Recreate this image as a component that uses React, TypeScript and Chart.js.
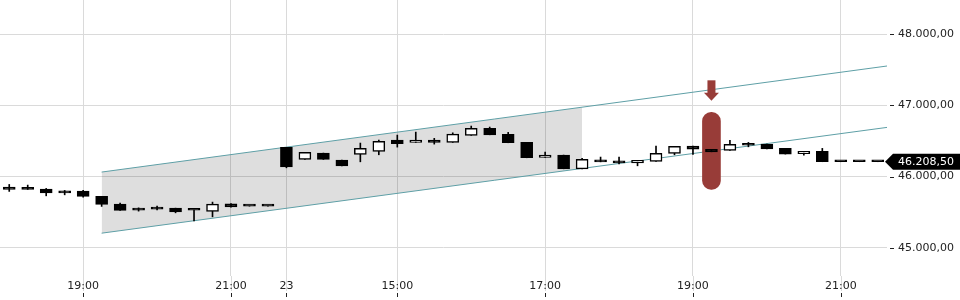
import React, { useEffect, useRef } from "react";
import { Chart, registerables } from "chart.js";

Chart.register(...registerables);

// ---- Data (15-minute candles) ----
const timeLabels = [
  "18:00","18:15","18:30","18:45","19:00","19:15","19:30","19:45",
  "20:00","20:15","20:30","20:45","21:00","21:15","21:30",
  "23 13:30","13:45","14:00","14:15","14:30","14:45","15:00","15:15",
  "15:30","15:45","16:00","16:15","16:30","16:45","17:00","17:15",
  "17:30","17:45","18:00","18:15","18:30","18:45","19:00","19:15",
  "19:30","19:45","20:00","20:15","20:30","20:45","21:00","21:15","21:30",
];
const openV = [
  45852, 45837, 45823, 45795, 45795, 45721, 45612, 45542, 45556, 45556,
  45530, 45510, 45617, 45584, 45584, 46410, 46241, 46330, 46231, 46312,
  46354, 46513, 46480, 46513, 46480, 46579, 46677, 46593, 46480, 46269,
  46302, 46109, 46227, 46213, 46193, 46213, 46326, 46428, 46382, 46368,
  46450, 46456, 46396, 46320, 46354, 46208.5, 46208.5, 46208.5,
];
const highV = [
  45889, 45880, 45833, 45805, 45805, 45721, 45626, 45560, 45584, 45556,
  45530, 45641, 45620, 45584, 45584, 46410, 46340, 46330, 46231, 46471,
  46513, 46583, 46625, 46537, 46615, 46710, 46696, 46621, 46480, 46344,
  46302, 46255, 46274, 46274, 46227, 46428, 46424, 46428, 46382, 46509,
  46480, 46456, 46396, 46354, 46396, 46208.5, 46208.5, 46208.5,
];
const lowV = [
  45791, 45819, 45729, 45743, 45711, 45580, 45524, 45514, 45532, 45490,
  45377, 45434, 45570, 45584, 45584, 46123, 46241, 46241, 46151, 46207,
  46306, 46414, 46480, 46456, 46480, 46579, 46587, 46475, 46264, 46269,
  46109, 46109, 46207, 46179, 46151, 46213, 46306, 46312, 46348, 46368,
  46418, 46390, 46316, 46302, 46208.5, 46208.5, 46208.5, 46208.5,
];
const closeV = [
  45819, 45819, 45771, 45771, 45721, 45608, 45524, 45528, 45542, 45504,
  45526, 45612, 45574, 45584, 45584, 46137, 46340, 46241, 46151, 46396,
  46494, 46461, 46513, 46480, 46597, 46677, 46587, 46475, 46264, 46302,
  46109, 46241, 46207, 46193, 46227, 46326, 46424, 46386, 46348, 46452,
  46440, 46390, 46316, 46354, 46208.5, 46208.5, 46208.5, 46208.5,
];

const xTickIndex = [4, 12, 15, 21, 29, 37, 45];
const xTickLabels = ["19:00", "21:00", "23", "15:00", "17:00", "19:00", "21:00"];
const yTicks = [45000, 46000, 47000, 48000];
const yMin = 44602;
const yMax = 48482;

// trend channel: [startIndex, endIndex] and values
const channelX = [5, 47.5];
const channelTop = [46063, 47554];
const channelBottom = [45204, 46691];
const shadeX = [5, 31];
const shadeTop = [46063, 46975];
const shadeBottom = [45204, 46114];

// signal marker
const markerIndex = 38;
const markerRange = [45819, 46903];

const lastPrice = 46208.5;

function fmt(v: number): string {
  const [i, f] = v.toFixed(2).split(".");
  return i.replace(/\B(?=(\d{3})+(?!\d))/g, ".") + "," + f;
}

export default function App() {
  const ref = useRef<HTMLCanvasElement | null>(null);

  useEffect(() => {
    if (!ref.current) return;
    const FONT = "'DejaVu Sans', sans-serif";
    Chart.defaults.font.family = FONT;
    Chart.defaults.font.size = 11;
    const GRID = "#dadada";
    const RED = "rgb(152,60,56)";

    const bodies = openV.map((o, i) => ({ x: i, y: [o, closeV[i]] }));
    const wicks = openV.map((_, i) => ({ x: i, y: [lowV[i], highV[i]] }));
    const bodyFill = openV.map((o, i) => (closeV[i] > o ? "#ffffff" : "#000000"));

    const overlay = {
      id: "overlay",
      beforeDraw(chart: any) {
        const { ctx, chartArea, scales } = chart;
        const x = scales.x;
        ctx.save();
        ctx.lineWidth = 1;
        xTickIndex.forEach((i) => {
          const px = Math.round(x.getPixelForValue(i)) + 0.5;
          ctx.strokeStyle = GRID;
          ctx.beginPath();
          ctx.moveTo(px, chartArea.bottom);
          ctx.lineTo(px, 291);
          ctx.stroke();
          ctx.strokeStyle = "#222";
          ctx.beginPath();
          ctx.moveTo(px, 293);
          ctx.lineTo(px, 297);
          ctx.stroke();
        });
        ctx.restore();
      },
      afterDraw(chart: any) {
        const { ctx, scales } = chart;
        const x = scales.x;
        const y = scales.y;
        ctx.save();
        // y tick dashes
        ctx.strokeStyle = "#222";
        ctx.lineWidth = 1;
        yTicks.forEach((v) => {
          const py = Math.round(y.getPixelForValue(v)) + 0.5;
          ctx.beginPath();
          ctx.moveTo(890, py);
          ctx.lineTo(894, py);
          ctx.stroke();
        });
        // arrow above marker
        const cx = x.getPixelForValue(markerIndex);
        const top = y.getPixelForValue(markerRange[1]);
        ctx.fillStyle = RED;
        ctx.fillRect(cx - 4, top - 32, 8, 13);
        ctx.beginPath();
        ctx.moveTo(cx - 7.5, top - 19.5);
        ctx.lineTo(cx + 7.5, top - 19.5);
        ctx.lineTo(cx, top - 11.5);
        ctx.closePath();
        ctx.fill();
        // last price label
        const cy = y.getPixelForValue(lastPrice);
        ctx.fillStyle = "#000";
        ctx.beginPath();
        ctx.moveTo(885, cy);
        ctx.lineTo(893, cy - 8);
        ctx.lineTo(960, cy - 8);
        ctx.lineTo(960, cy + 8);
        ctx.lineTo(893, cy + 8);
        ctx.closePath();
        ctx.fill();
        ctx.fillStyle = "#fff";
        ctx.font = `11px ${FONT}`;
        ctx.textBaseline = "middle";
        ctx.textAlign = "left";
        ctx.fillText(fmt(lastPrice), 898, cy + 0.5);
        ctx.restore();
      },
    };

    const chart = new Chart(ref.current, {
      type: "bar",
      data: {
        datasets: [
          {
            type: "line",
            data: shadeX.map((v, i) => ({ x: v, y: shadeTop[i] })),
            borderWidth: 0,
            pointRadius: 0,
            fill: "+1",
            backgroundColor: "rgba(0,0,0,0.13)",
            order: 10,
          } as any,
          {
            type: "line",
            data: shadeX.map((v, i) => ({ x: v, y: shadeBottom[i] })),
            borderWidth: 0,
            pointRadius: 0,
            fill: false,
            order: 10,
          } as any,
          {
            type: "line",
            data: channelX.map((v, i) => ({ x: v, y: channelTop[i] })),
            borderColor: "#5e9fa6",
            borderWidth: 1,
            pointRadius: 0,
            fill: false,
            order: 9,
          } as any,
          {
            type: "line",
            data: channelX.map((v, i) => ({ x: v, y: channelBottom[i] })),
            borderColor: "#5e9fa6",
            borderWidth: 1,
            pointRadius: 0,
            fill: false,
            order: 9,
          } as any,
          {
            type: "bar",
            data: [{ x: markerIndex, y: markerRange }],
            backgroundColor: RED,
            barThickness: 18,
            borderRadius: 9,
            borderSkipped: false,
            grouped: false,
            order: 8,
          } as any,
          {
            type: "bar",
            data: wicks,
            backgroundColor: "#000",
            barThickness: 1,
            grouped: false,
            order: 7,
          } as any,
          {
            type: "bar",
            data: bodies,
            backgroundColor: bodyFill,
            borderColor: "#000",
            borderWidth: 1.5,
            borderSkipped: false,
            barThickness: 12,
            minBarLength: 2,
            grouped: false,
            order: 6,
          } as any,
        ],
      },
      options: {
        animation: false,
        responsive: false,
        layout: { padding: 0 },
        plugins: { legend: { display: false }, tooltip: { enabled: false } },
        scales: {
          x: {
            type: "linear",
            min: -0.5,
            max: 47.5,
            offset: false,
            grid: { color: GRID, drawTicks: false, offset: false },
            border: { display: false },
            afterBuildTicks: (s: any) => {
              s.ticks = xTickIndex.map((v) => ({ value: v }));
            },
            afterFit: (s: any) => {
              s.height = 24;
              s.paddingLeft = 0;
              s.paddingRight = 0;
            },
            ticks: {
              autoSkip: false,
              maxRotation: 0,
              padding: 4,
              color: "#222",
              font: { size: 11, family: FONT },
              callback: (v: any) => {
                const k = xTickIndex.indexOf(Number(v));
                return k >= 0 ? xTickLabels[k] : "";
              },
            },
          },
          y: {
            position: "right",
            min: yMin,
            max: yMax,
            grid: { color: GRID, drawTicks: false },
            border: { display: false },
            afterBuildTicks: (s: any) => {
              s.ticks = yTicks.map((v) => ({ value: v }));
            },
            afterFit: (s: any) => {
              s.width = 73;
              s.paddingTop = 0;
              s.paddingBottom = 0;
            },
            ticks: {
              padding: 11,
              color: "#222",
              font: { size: 11, family: FONT },
              callback: (v: any) => fmt(Number(v)),
            },
          },
        },
      } as any,
      plugins: [overlay],
    });
    return () => chart.destroy();
  }, []);

  return (
    <div style={{ position: "fixed", left: 0, top: 0, width: 960, height: 300, background: "#fff" }}>
      <canvas ref={ref} width={960} height={300} style={{ display: "block" }} />
    </div>
  );
}
